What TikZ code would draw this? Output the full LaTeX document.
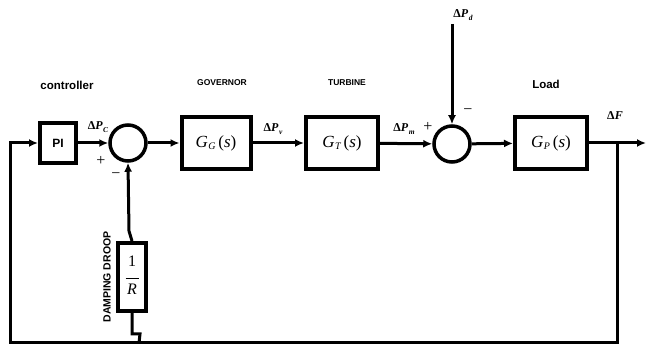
\documentclass[tikz,border=0pt]{standalone}
\usepackage{fontspec}
\setmainfont{Liberation Sans}
\newfontfamily\tnr{Liberation Serif}
\usetikzlibrary{arrows.meta}
\newcommand{\blkG}[1]{{\tnr\fontsize{17}{17}\selectfont\itshape G\kern0.5pt\raisebox{-0.35ex}{\fontsize{10}{10}\selectfont #1}\,\upshape(\itshape s\upshape)}}
\newcommand{\dP}[1]{{\tnr\bfseries\fontsize{12}{12}\selectfont Δ\textit{P}\kern0.5pt\raisebox{-0.45ex}{\fontsize{7.5}{7.5}\selectfont\itshape #1}}}
\begin{document}
\begin{tikzpicture}[x=1pt,y=-1pt,line width=3pt,
  blk/.style={draw,line width=4pt,inner sep=0pt},
  sum/.style={draw,circle,line width=3.5pt,minimum size=36pt,inner sep=0pt},
  arr/.style={-{Latex[length=9pt,width=8pt]}},
  lbl/.style={font=\bfseries\fontsize{11.5}{11.5}\selectfont},
  slbl/.style={font=\bfseries\fontsize{8.5}{8.5}\selectfont},
  sgn/.style={font=\tnr\fontsize{16}{16}\selectfont}]
\useasboundingbox (0,0) rectangle (646,347);
% blocks
\node[blk,minimum width=36pt,minimum height=40pt,font=\bfseries\fontsize{12}{12}\selectfont] (pi) at (58,143) {PI};
\node[sum] (s1) at (128,143) {};
\node[blk,minimum width=69pt,minimum height=52pt] (gg) at (216,143) {\blkG{G}};
\node[blk,minimum width=72pt,minimum height=52pt] (gt) at (342,143) {\blkG{T}};
\node[sum] (s2) at (452,144) {};
\node[blk,minimum width=72pt,minimum height=52pt] (gp) at (551,143) {\blkG{P}};
\node[blk,minimum width=28pt,minimum height=68pt] (r) at (132,277)
  {\tnr\fontsize{16}{16}\selectfont\begin{tabular}{@{}c@{}}1\\[-3pt]\rule{13pt}{0.9pt}\\[-1pt]\itshape R\end{tabular}};
% coordinates
\coordinate (br) at (617,143);
\coordinate (out) at (646,143);
\coordinate (bl) at (617,343);
\coordinate (lb) at (10,343);
\coordinate (lt) at (10,143);
\coordinate (pd) at (452,24);
\coordinate (rj) at (139,343);
% connectors
\draw[arr] (br) -- (bl) -- (lb) -- (lt) -- (pi.west);
\draw[arr] (pi) -- (s1);
\draw[arr] (s1) -- (gg);
\draw[arr] (gg) -- (gt);
\draw[arr] (gt) -- (s2);
\draw[arr] (s2) -- (gp);
\draw[arr] (gp) -- (out);
\draw[arr] (pd) -- (s2);
\draw[arr] (r.north) -- ++(-3,-10) -- (s1.south);
\draw (r.south) -- ++(0,21) -- ++(8,0) -- (rj);
% labels
\node[lbl] (lc) at (67,85) {controller};
\node[slbl] (lg) at (222,83) {GOVERNOR};
\node[slbl] (lt2) at (347,83) {TURBINE};
\node[lbl] (ll) at (546,84) {Load};
\node[font=\bfseries\fontsize{10.5}{10.5}\selectfont,rotate=90] (ld) at (107,277) {DAMPING DROOP};
\node (pc) at (98,127) {\dP{C}};
\node (pv) at (273,129) {\dP{v}};
\node (pm) at (404,129) {\dP{m}};
\node (pdl) at (463,15) {\dP{d}};
\node (df) at (615,116) {{\tnr\bfseries\fontsize{12}{12}\selectfont Δ\textit{F}}};
\node[sgn] (p1) at (101,161) {+};
\node[sgn] (p2) at (428,127) {+};
\node[sgn] (m1) at (116,176) {−};
\node[sgn] (m2) at (468,112) {−};
\end{tikzpicture}
\end{document}
